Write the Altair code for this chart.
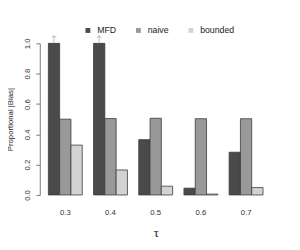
import altair as alt
import pandas as pd

taus = ["0.3", "0.4", "0.5", "0.6", "0.7"]
series = ["MFD", "naive", "bounded"]
mfd = [1.0, 1.0, 0.365, 0.045, 0.282]
naive = [0.5, 0.504, 0.506, 0.503, 0.503]
bounded = [0.329, 0.165, 0.058, 0.006, 0.049]
colors = ["#4a4a4a", "#999999", "#d3d3d3"]
truncated_taus = ["0.3", "0.4"]
arrow_base = [1.0, 1.0]
arrow_tip = [1.05, 1.05]

rows = []
for name, vals in zip(series, [mfd, naive, bounded]):
    for t, v in zip(taus, vals):
        rows.append({"tau": t, "series": name, "value": v})
df = pd.DataFrame(rows)
arr = pd.DataFrame({"tau": truncated_taus, "series": ["MFD"] * len(truncated_taus),
                    "y0": arrow_base, "y1": arrow_tip})

FONT = "Liberation Sans"

x_axis = alt.Axis(title="τ", domain=False, ticks=False, labelAngle=0,
                  labelFont=FONT, labelFontSize=8, labelColor="#333",
                  labelPadding=14, titleFont="Liberation Serif",
                  titleFontSize=13, titleFontWeight="normal",
                  titleColor="#222", titlePadding=11)
x_scale = alt.Scale(domain=taus, paddingInner=0.25, paddingOuter=0.125)
y_axis = alt.Axis(title="Proportional |Bias|", values=[0, 0.2, 0.4, 0.6, 0.8, 1.0],
                  format=".1f", grid=False, offset=3, tickSize=4,
                  domainColor="#777", tickColor="#777", labelOverlap=False,
                  labelAngle=-90, labelAlign="center", labelBaseline="bottom",
                  labelPadding=5, labelFont=FONT, labelFontSize=8,
                  labelColor="#333", titleFont=FONT, titleFontSize=8,
                  titleFontWeight="normal", titleColor="#222",
                  titlePadding=9)
y_scale = alt.Scale(domain=[0, 1], nice=False)
xo_enc = alt.XOffset("series:N", sort=series,
                     scale=alt.Scale(domain=series, paddingInner=0, paddingOuter=0))

bars = alt.Chart(df).mark_bar(stroke="#3a3a3a", strokeWidth=0.8).encode(
    x=alt.X("tau:N", sort=taus, scale=x_scale, axis=x_axis),
    xOffset=xo_enc,
    y=alt.Y("value:Q", scale=y_scale, axis=y_axis),
    color=alt.Color("series:N", sort=series,
                    scale=alt.Scale(domain=series, range=colors),
                    legend=alt.Legend(title=None, orient="none", direction="horizontal",
                                      legendX=42, legendY=-18, symbolType="square",
                                      symbolSize=25, symbolStrokeWidth=0,
                                      labelFont=FONT, labelFontSize=9,
                                      labelColor="#222", labelOffset=5,
                                      columnPadding=18)),
)

shaft = alt.Chart(arr).mark_rule(color="#aaaaaa", strokeWidth=0.8).encode(
    x=alt.X("tau:N", sort=taus, scale=x_scale, axis=x_axis),
    xOffset=xo_enc,
    y=alt.Y("y0:Q", scale=y_scale, axis=y_axis), y2="y1:Q")

head = alt.Chart(arr).mark_point(shape="M-1,0.8L0,0L1,0.8", size=25, filled=False,
                                 color="#aaaaaa", strokeWidth=0.8, opacity=1).encode(
    x=alt.X("tau:N", sort=taus, scale=x_scale, axis=x_axis),
    xOffset=xo_enc,
    y=alt.Y("y1:Q", scale=y_scale, axis=y_axis))

chart = alt.layer(bars, shaft, head).properties(
    width=232.5, height=156,
    autosize=alt.AutoSizeParams(type="none"),
    padding={"left": 35.7, "top": 33, "right": 24, "bottom": 45},
).configure_view(stroke=None)

chart.save("out.html", embed_options={"renderer": "svg", "actions": False})
